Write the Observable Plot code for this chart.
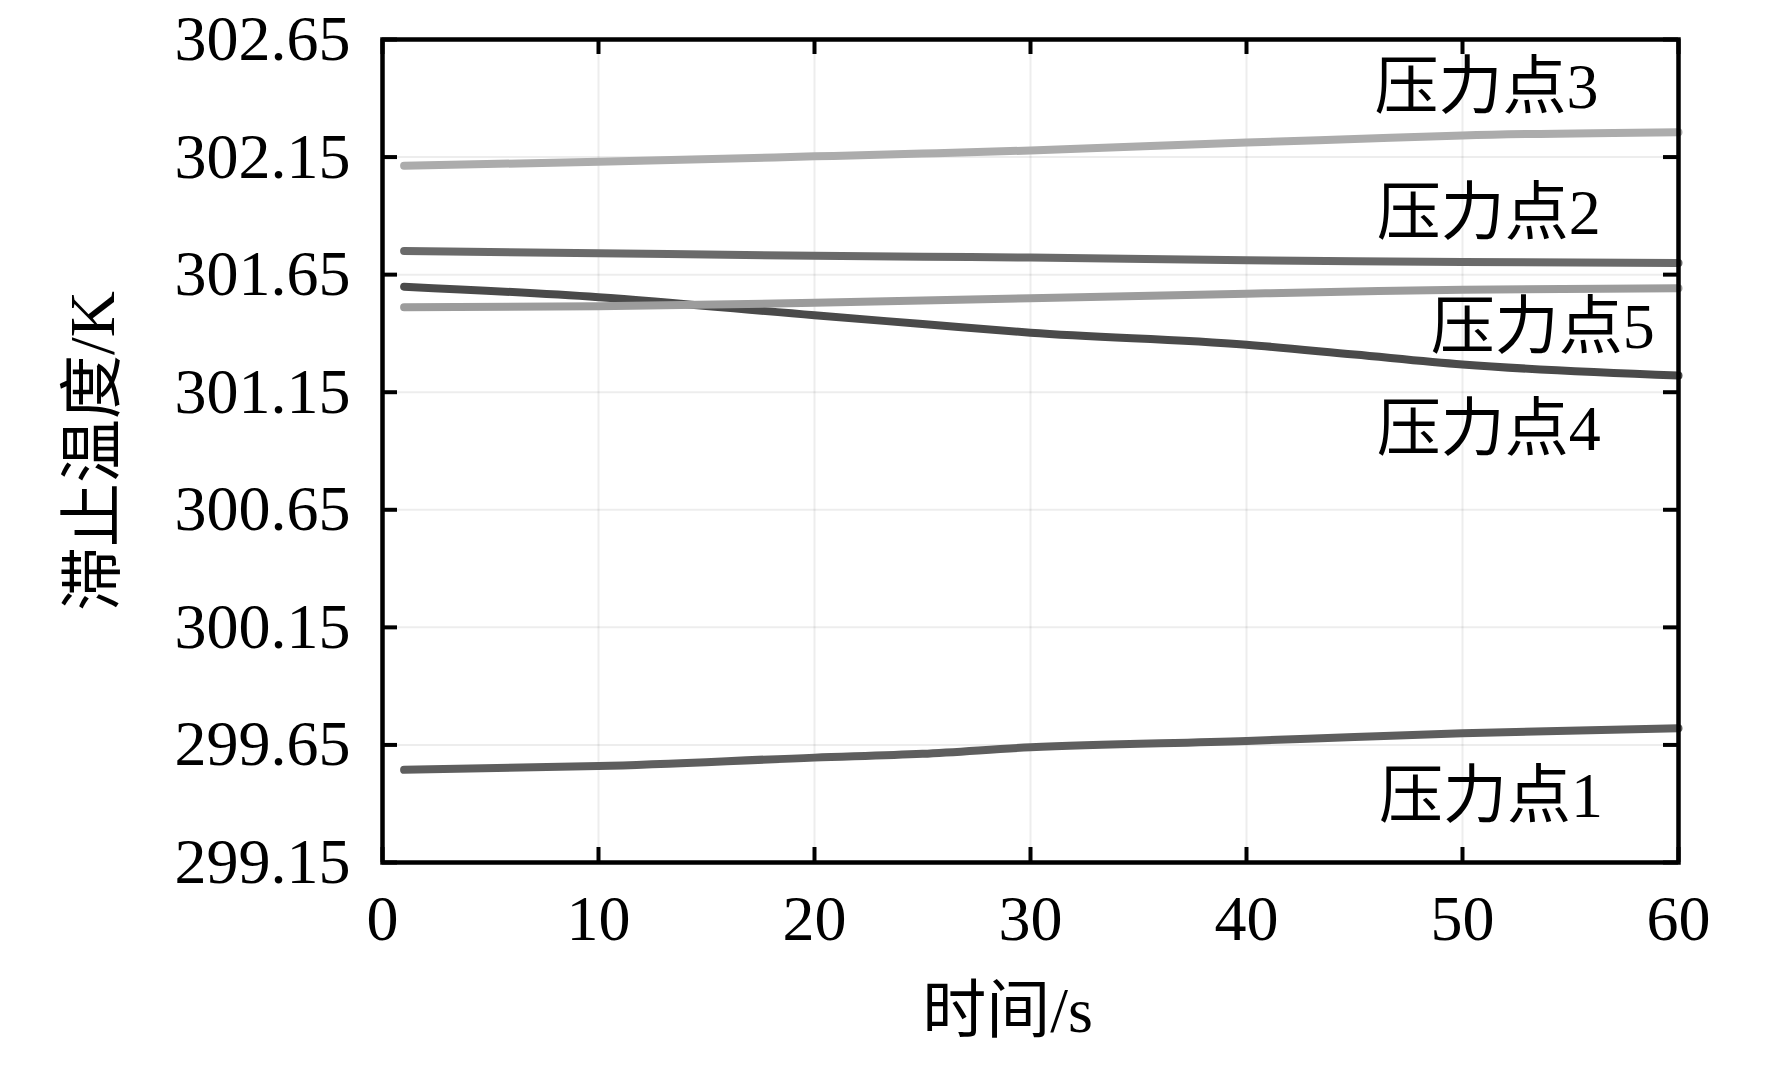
<!DOCTYPE html>
<html>
<head>
<meta charset="utf-8">
<script src="https://cdn.jsdelivr.net/npm/d3@7"></script>
<script src="https://cdn.jsdelivr.net/npm/@observablehq/plot@0.6"></script>
<style>
  html, body { margin: 0; padding: 0; background: #fff; }
</style>
</head>
<body>
<div id="chart"></div>
<script>
// ---- data ----
const times = [1, 10, 20, 25, 30, 40, 45, 50, 60];
const seriesNames = ["压力点1", "压力点2", "压力点3", "压力点4", "压力点5"];
const p1 = [299.544, 299.560, 299.596, 299.612, 299.640, 299.667, 299.684, 299.700, 299.721];
const p2 = [301.751, 301.741, 301.730, 301.726, 301.723, 301.711, 301.707, 301.704, 301.700];
const p3 = [302.113, 302.130, 302.153, 302.165, 302.178, 302.212, 302.227, 302.242, 302.256];
const p4 = [301.599, 301.554, 301.477, 301.440, 301.403, 301.352, 301.310, 301.268, 301.221];
const p5 = [301.511, 301.516, 301.530, 301.540, 301.550, 301.569, 301.578, 301.586, 301.592];
const xTicks = [0, 10, 20, 30, 40, 50, 60];
const yTicks = [299.15, 299.65, 300.15, 300.65, 301.15, 301.65, 302.15, 302.65];
// label anchor points in data units (time, temperature)
const labelTime = [56.5, 56.4, 56.3, 56.4, 58.9];
const labelTemp = [299.43, 301.91, 302.446, 300.99, 301.425];

const valuesBySeries = [p1, p2, p3, p4, p5];
const colors = ["#5e5e5e", "#6a6a6a", "#acacac", "#4a4a4a", "#9c9c9c"];

const rows = [];
seriesNames.forEach((name, i) => {
  times.forEach((t, j) => rows.push({series: name, t, v: valuesBySeries[i][j]}));
});
const labels = seriesNames.map((name, i) => ({text: name, t: labelTime[i], v: labelTemp[i]}));

const W = 1772, H = 1066;
const mL = 382, mR = 94, mT = 39, mB = 204;
const plotW = W - mL - mR, plotH = H - mT - mB;
const tickLen = 15;
const serif = "'Liberation Serif', 'Times New Roman', 'Noto Sans CJK SC', serif";

const chart = Plot.plot({
  width: W,
  height: H,
  marginLeft: mL,
  marginRight: mR,
  marginTop: mT,
  marginBottom: mB,
  style: {fontFamily: serif, fontSize: "64px", background: "#fff", color: "#000"},
  x: {domain: [0, 60], ticks: xTicks, label: null},
  y: {domain: [299.15, 302.65], ticks: yTicks, label: null},
  color: {domain: seriesNames, range: colors},
  marks: [
    Plot.gridX(xTicks, {stroke: "#000", strokeOpacity: 0.07, strokeWidth: 2}),
    Plot.gridY(yTicks, {stroke: "#000", strokeOpacity: 0.07, strokeWidth: 2}),
    Plot.line(rows, {x: "t", y: "v", z: "series", stroke: "series", strokeWidth: 8, curve: "monotone-x"}),
    Plot.frame({stroke: "#000", strokeWidth: 4.5}),
    // inward ticks on all four sides
    Plot.tickY(yTicks, {y: d => d, insetRight: plotW - tickLen, stroke: "#000", strokeWidth: 4}),
    Plot.tickY(yTicks, {y: d => d, insetLeft: plotW - tickLen, stroke: "#000", strokeWidth: 4}),
    Plot.tickX(xTicks, {x: d => d, insetTop: plotH - tickLen, stroke: "#000", strokeWidth: 4}),
    Plot.tickX(xTicks, {x: d => d, insetBottom: plotH - tickLen, stroke: "#000", strokeWidth: 4}),
    Plot.axisY(yTicks, {anchor: "left", tickSize: 0, tickPadding: 32, fontSize: 64, tickFormat: d => d.toFixed(2), label: null}),
    Plot.axisX(xTicks, {anchor: "bottom", tickSize: 0, tickPadding: 32, fontSize: 64, tickFormat: d => String(d), label: null}),
    Plot.text(labels, {x: "t", y: "v", text: "text", textAnchor: "end", lineAnchor: "middle", fontSize: 64, fill: "#000"}),
    Plot.text(["时间/s"], {frameAnchor: "bottom", dy: 149, dx: -23, lineAnchor: "middle", fontSize: 64, fill: "#000"}),
    Plot.text(["滞止温度/K"], {frameAnchor: "left", dx: -289, rotate: -90, lineAnchor: "middle", textAnchor: "middle", fontSize: 64, fill: "#000"})
  ]
});
document.getElementById("chart").appendChild(chart);
</script>
</body>
</html>
